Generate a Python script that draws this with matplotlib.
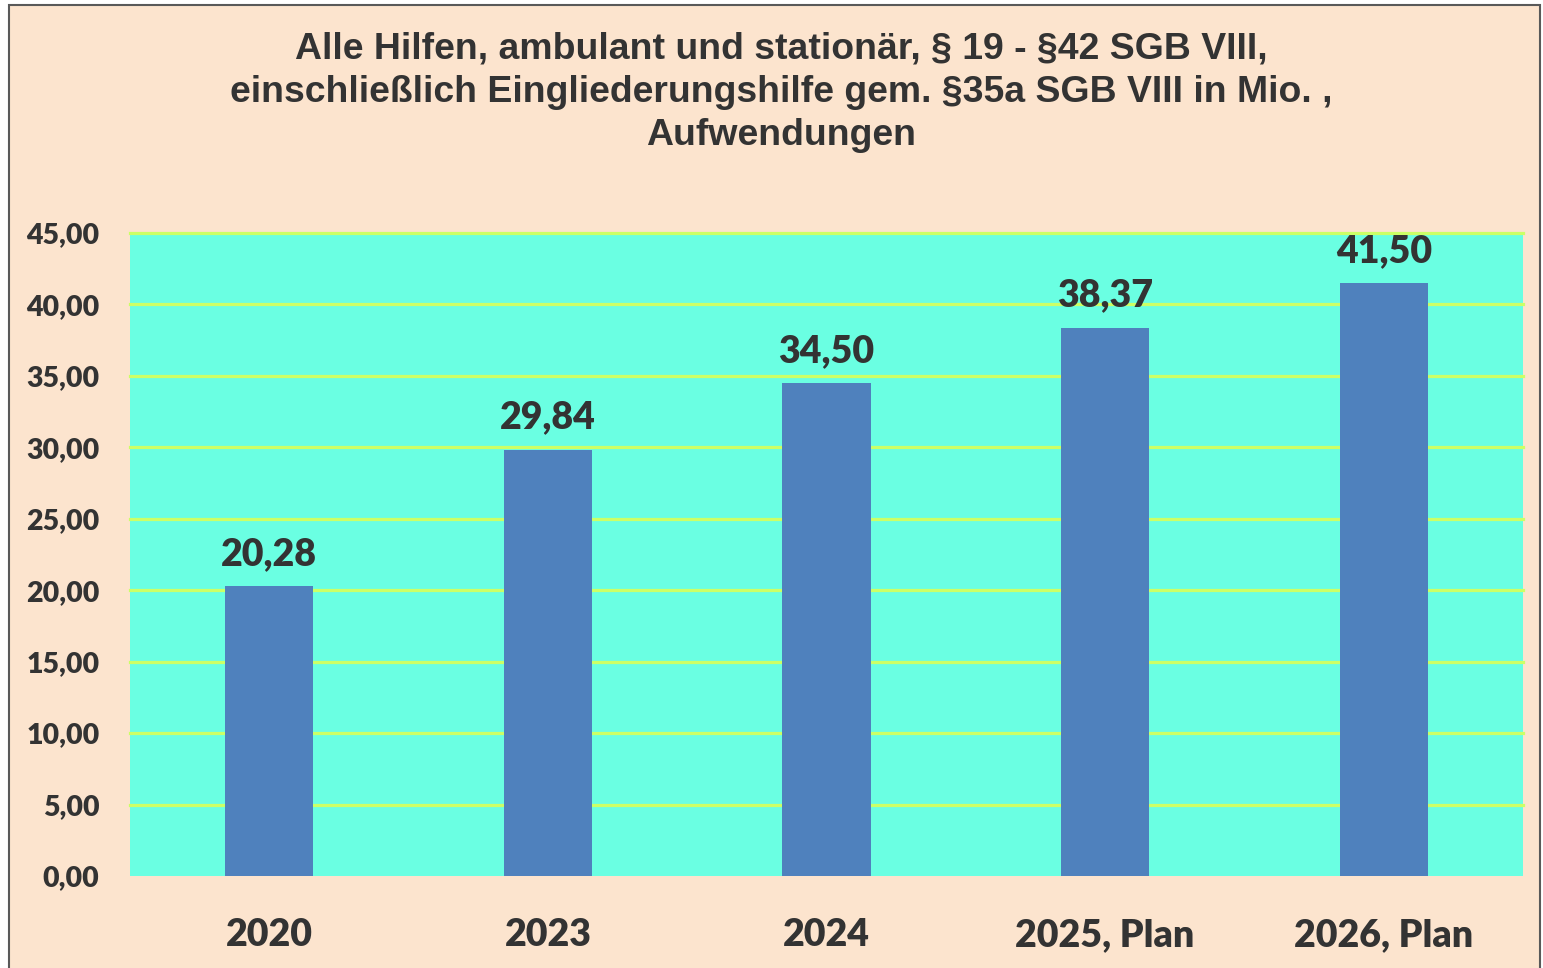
import matplotlib
matplotlib.use("Agg")
import matplotlib.pyplot as plt
from matplotlib.patches import Rectangle
from matplotlib import font_manager as fm

categories = ["2020", "2023", "2024", "2025, Plan", "2026, Plan"]
values = [20.28, 29.84, 34.50, 38.37, 41.50]
value_labels = ["20,28", "29,84", "34,50", "38,37", "41,50"]
yticks = [0, 5, 10, 15, 20, 25, 30, 35, 40, 45]
ytick_labels = ["0,00", "5,00", "10,00", "15,00", "20,00", "25,00", "30,00", "35,00", "40,00", "45,00"]
title = ("Alle Hilfen, ambulant und stationär, § 19 - §42 SGB VIII,\n"
         "einschließlich Eingliederungshilfe gem. §35a SGB VIII in Mio. ,\n"
         "Aufwendungen")

W, H = 1543, 968
bg = "#FCE4CE"
plot_bg = "#6AFFE2"
bar_c = "#4F81BD"
grid_c = "#CCFF66"
txt = "#333333"

lato = {(f.name, f.weight) for f in fm.fontManager.ttflist if "Lato" in f.name}
wt = "heavy" if any(w >= 800 for n, w in lato if n == "Lato") else "bold"

fig = plt.figure(figsize=(W / 100, H / 100), dpi=100)
fig.patch.set_facecolor("white")
fig.add_artist(Rectangle((9 / W, -0.01), (1540 - 9) / W, 1 - 5 / H + 0.01,
                         transform=fig.transFigure, facecolor=bg,
                         edgecolor="#595959", linewidth=1.5, zorder=0))

ax = fig.add_axes([130 / W, (H - 876) / H, (1523 - 130) / W, (876 - 233) / H])
ax.set_facecolor(plot_bg)
x = range(len(categories))
bars = ax.bar(x, values, width=0.316, color=bar_c, zorder=3)
ax.set_xlim(-0.5, len(categories) - 0.5)
ax.set_ylim(0, 45)
ax.set_yticks(yticks)
ax.set_yticklabels(ytick_labels)
ax.set_xticks(list(x))
ax.set_xticklabels(categories)
for s in ax.spines.values():
    s.set_visible(False)
for y in yticks[1:]:
    ax.axhline(y, color=grid_c, linewidth=2.3, zorder=2, clip_on=False)
ax.tick_params(axis="y", length=0, pad=22, labelsize=20.5, labelcolor=txt)
ax.tick_params(axis="x", length=0, pad=30, labelsize=27, labelcolor=txt)
for lab in ax.get_yticklabels() + ax.get_xticklabels():
    lab.set_fontfamily("Lato")
    lab.set_fontweight(wt)

for b, lab in zip(bars, value_labels):
    ax.annotate(lab, (b.get_x() + b.get_width() / 2, b.get_height()),
                xytext=(0, 11), textcoords="offset points", ha="center", va="bottom",
                fontsize=27, fontweight=wt, family="Lato", color=txt, zorder=5)

fig.text(781 / W, 1 - 31 / H, title, ha="center", va="top", fontsize=26.9,
         fontweight="bold", family="Liberation Sans", color=txt, linespacing=1.32)

fig.savefig("out.png", dpi=100, facecolor=fig.get_facecolor())
